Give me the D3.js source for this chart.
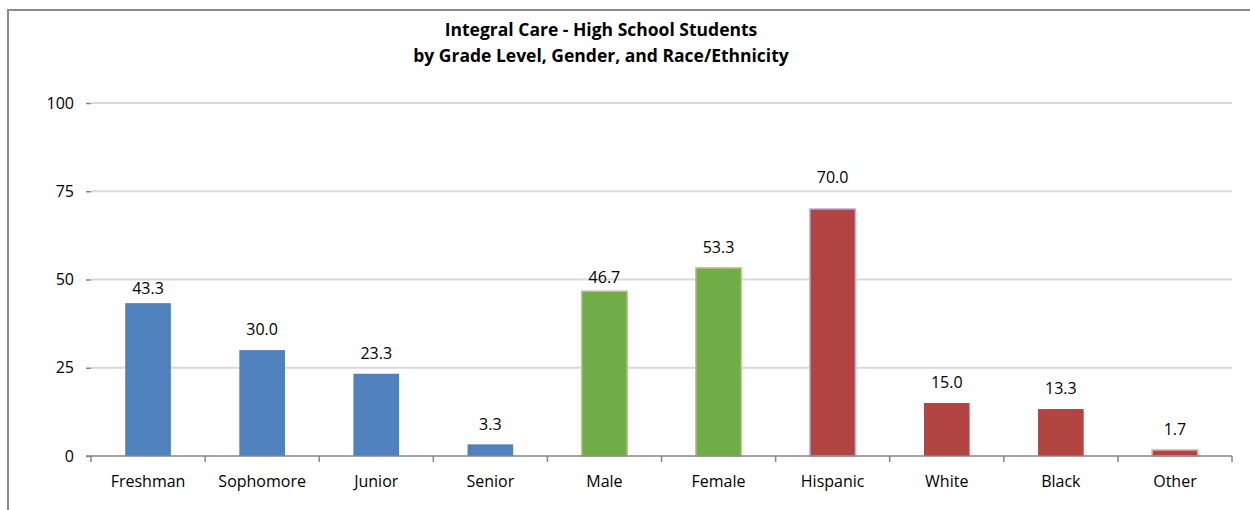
<!DOCTYPE html>
<html>
<head>
<meta charset="utf-8">
<script src="https://cdn.jsdelivr.net/npm/d3@7/dist/d3.min.js"></script>
<style>
html,body{margin:0;padding:0;background:#fff;}
svg{display:block;}
text{font-family:"Open Sans",sans-serif;fill:#000;}
</style>
</head>
<body>
<svg id="chart" width="1250" height="510"></svg>
<script>
const titleLines = ["Integral Care - High School Students", "by Grade Level, Gender, and Race/Ethnicity"];
const categories = ["Freshman","Sophomore","Junior","Senior","Male","Female","Hispanic","White","Black","Other"];
const values = [43.3, 30.0, 23.3, 3.3, 46.7, 53.3, 70.0, 15.0, 13.3, 1.7];
const groups = ["grade","grade","grade","grade","gender","gender","race","race","race","race"];
const yTicks = [0, 25, 50, 75, 100];

const fillByGroup = {grade:"#4F81BD", gender:"#70AD47", race:"#B24442"};
const strokeByCat = {Male:"#C9C29B", Female:"#C9C29B", Hispanic:"#C7B6DB", Other:"#E3A9A8"};
// label gap (px, label centre above bar top); a few labels sit at a custom gap
const labelGap = {Freshman:14.5, Male:13.5, Hispanic:31.5};
const defaultGap = 20.5;

const svg = d3.select("#chart");

// frame
svg.append("path").attr("d", "M8,510 L8,10 L1250,10").attr("fill","none")
  .attr("stroke","#8a8a8a").attr("stroke-width",2);

const x0 = 91, x1 = 1232, yTop = 103, yBot = 456;
const x = d3.scaleBand().domain(categories).range([x0, x1]).paddingInner(0.6).paddingOuter(0.3);
const y = d3.scaleLinear().domain([0, 100]).range([yBot, yTop]);

// title
svg.append("text").attr("text-anchor","middle")
  .style("font-weight","bold").style("font-size","17.5px")
  .selectAll("tspan").data(titleLines).join("tspan")
  .attr("x", 601).attr("y", (d,i)=> 36 + i*26).text(d=>d);

// gridlines
svg.append("g").selectAll("line").data(yTicks.filter(t=>t>0)).join("line")
  .attr("x1", x0).attr("x2", x1).attr("y1", d=>y(d)).attr("y2", d=>y(d))
  .attr("stroke","#d9d9d9").attr("stroke-width",2);

// y axis (ticks and labels, no domain line)
const yAxis = d3.axisLeft(y).tickValues(yTicks).tickSize(5).tickPadding(12).tickFormat(d3.format("d"));
const gy = svg.append("g").attr("transform", `translate(${x0},0)`).call(yAxis);
gy.select(".domain").remove();
gy.selectAll(".tick line").attr("stroke","#868686").attr("stroke-width",1.5);
gy.selectAll(".tick text").style("font-family","'Open Sans',sans-serif").style("font-size","16px").attr("fill","#000");

// bars
svg.append("g").selectAll("rect").data(categories).join("rect")
  .attr("x", d=>x(d)).attr("width", x.bandwidth())
  .attr("y", (d,i)=>y(values[i])).attr("height", (d,i)=>yBot - y(values[i]))
  .attr("fill", (d,i)=>fillByGroup[groups[i]])
  .attr("stroke", d=>strokeByCat[d] || "none").attr("stroke-width", 1.5);

// data labels
svg.append("g").selectAll("text").data(categories).join("text")
  .attr("x", d=>x(d) + x.bandwidth()/2)
  .attr("y", (d,i)=>y(values[i]) - (labelGap[d] || defaultGap))
  .attr("dy","0.36em")
  .attr("text-anchor","middle").style("font-size","16px")
  .text((d,i)=>d3.format(".1f")(values[i]));

// x axis
const boundaries = categories.map(c=>x(c) - x.step()*x.paddingInner()/2).concat([x1]);
svg.append("line").attr("x1", 86).attr("x2", x1).attr("y1", yBot).attr("y2", yBot)
  .attr("stroke","#868686").attr("stroke-width",1.5);
svg.append("g").selectAll("line").data(boundaries).join("line")
  .attr("x1", d=>d).attr("x2", d=>d).attr("y1", yBot).attr("y2", yBot+6)
  .attr("stroke","#868686").attr("stroke-width",1.5);

const xAxis = d3.axisBottom(x).tickSize(0).tickPadding(0);
const gx = svg.append("g").attr("transform", `translate(0,${yBot})`).call(xAxis);
gx.select(".domain").remove();
gx.selectAll(".tick text").attr("y", 26).attr("dy","0.32em")
  .style("font-family","'Open Sans',sans-serif").style("font-size","16px").attr("fill","#000");
</script>
</body>
</html>
